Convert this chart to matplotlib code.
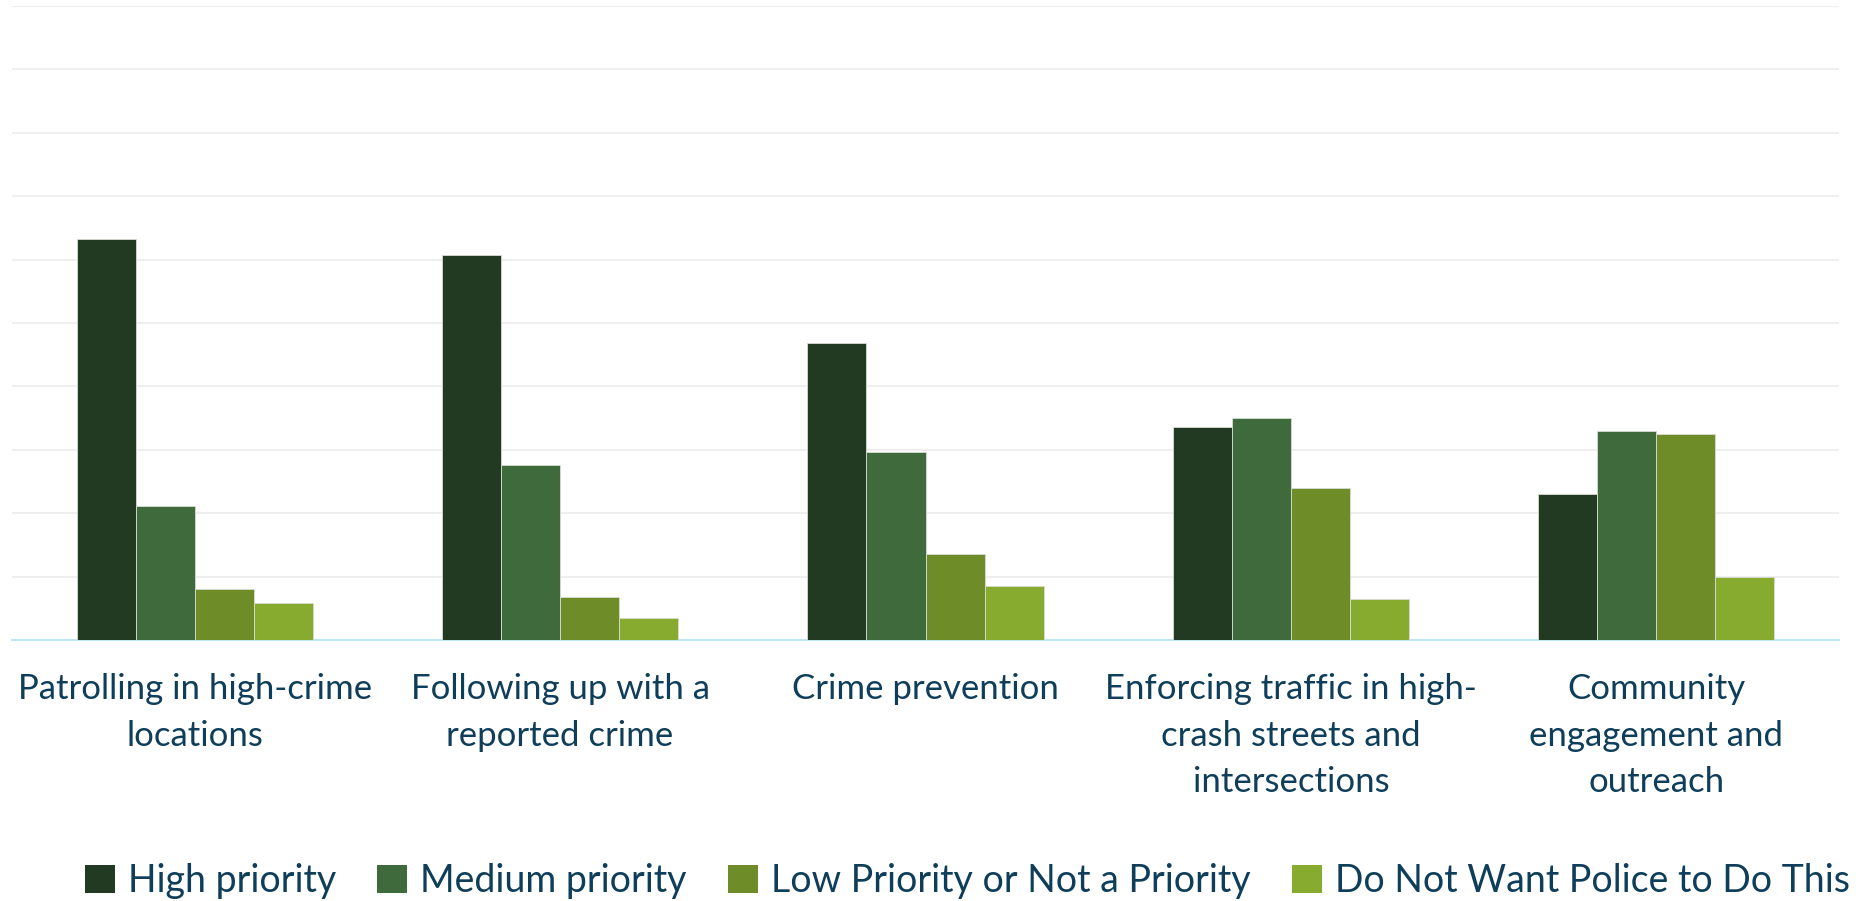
import matplotlib
matplotlib.use("Agg")
import matplotlib.pyplot as plt
from matplotlib.patches import Patch
import numpy as np

# survey shares (%) by police activity
categories = [
    "Patrolling in high-crime\nlocations",
    "Following up with a\nreported crime",
    "Crime prevention",
    "Enforcing traffic in high-\ncrash streets and\nintersections",
    "Community\nengagement and\noutreach",
]
series_names = [
    "High priority",
    "Medium priority",
    "Low Priority or Not a Priority",
    "Do Not Want Police to Do This",
]
high_priority = [63.3, 60.7, 46.8, 33.6, 23.1]
medium_priority = [21.2, 27.6, 29.7, 35.0, 32.9]
low_priority = [8.1, 6.8, 13.5, 23.9, 32.5]
do_not_want = [5.8, 3.4, 8.5, 6.4, 9.9]

colors = ["#233A22", "#3E6A3C", "#6E8C27", "#86AB2F"]
text_color = "#0F3E5A"

plt.rcParams["font.family"] = ["Lato", "DejaVu Sans"]

fig = plt.figure(figsize=(18.69, 9.01), dpi=100)
ax = fig.add_axes([12 / 1869, 261 / 901, 1827 / 1869, 634 / 901])

x = np.arange(len(categories))
bar_w = 0.1615
all_series = [high_priority, medium_priority, low_priority, do_not_want]
for i, (vals, col) in enumerate(zip(all_series, colors)):
    ax.bar(x + (i - 1.5) * bar_w, vals, width=bar_w, color=col,
           edgecolor="#d8dcd4", linewidth=0.6, zorder=3)

ax.set_xlim(-0.5, len(categories) - 0.5)
ax.set_ylim(0, 100)
ax.set_yticks(np.arange(0, 101, 10))
ax.yaxis.grid(True, color="#EFEFEF", linewidth=1.5, zorder=0)
ax.tick_params(axis="y", left=False, labelleft=False)
ax.tick_params(axis="x", length=0, pad=24)
ax.set_xticks(x)
ax.set_xticklabels(categories, fontsize=25, color=text_color,
                   linespacing=1.55, va="top")
for side in ["left", "right", "top"]:
    ax.spines[side].set_visible(False)
ax.spines["bottom"].set_color("#BFE6F5")
ax.spines["bottom"].set_linewidth(1.5)

handles = [Patch(facecolor=c, edgecolor="none") for c in colors]
fig.legend(handles, series_names, loc="center", bbox_to_anchor=(0.5 + 33 / 1869, 20 / 901),
           ncol=4, frameon=False, fontsize=27, labelcolor=text_color,
           handlelength=0.8, handleheight=0.8, handletextpad=0.35,
           columnspacing=1.1, borderaxespad=0)

fig.savefig("out.png", dpi=100, facecolor="white")
